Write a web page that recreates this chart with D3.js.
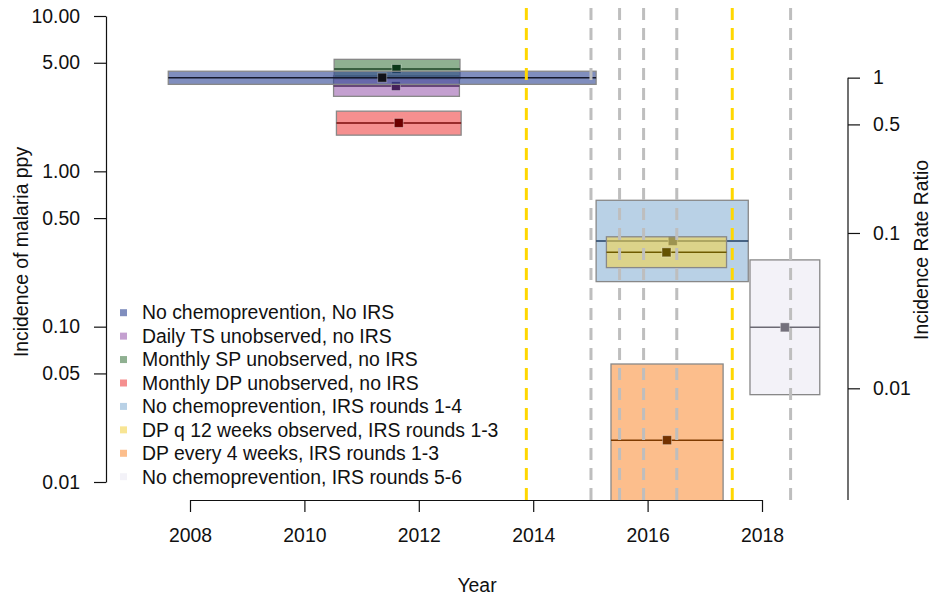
<!DOCTYPE html>
<html>
<head>
<meta charset="utf-8">
<script src="https://cdn.jsdelivr.net/npm/d3@7"></script>
<style>
  html, body { margin: 0; padding: 0; background: #fff; }
  svg { display: block; }
  text { font-family: "Liberation Sans", Arial, Helvetica, sans-serif; fill: #111; }
</style>
</head>
<body>
<svg id="chart" width="932" height="598"></svg>
<script>
// ---- data ----
const categories = [
  "No chemoprevention, No IRS",
  "Daily TS unobserved, no IRS",
  "Monthly SP unobserved, no IRS",
  "Monthly DP unobserved, no IRS",
  "No chemoprevention, IRS rounds 1-4",
  "DP q 12 weeks observed, IRS rounds 1-3",
  "DP every 4 weeks, IRS rounds 1-3",
  "No chemoprevention, IRS rounds 5-6"
];
const startYear = [2007.62, 2010.51, 2010.52, 2010.56, 2015.10, 2015.28, 2015.36, 2017.79];
const endYear   = [2015.10, 2012.71, 2012.72, 2012.74, 2017.76, 2017.38, 2017.32, 2019.01];
const midYear   = [2011.36, 2011.60, 2011.61, 2011.65, 2016.44, 2016.33, 2016.34, 2018.40];
const incidence = [4.01, 3.54, 4.56, 2.05, 0.356, 0.301, 0.0186, 0.099];
const lowerCI   = [3.63, 3.04, 3.95, 1.71, 0.195, 0.240, 0.005, 0.0365];
const upperCI   = [4.41, 4.12, 5.26, 2.44, 0.651, 0.379, 0.0575, 0.269];
const goldLineYears = [2013.88, 2017.48];
const grayLineYears = [2015.01, 2015.51, 2015.93, 2016.51, 2018.50];
const xTicks = [2008, 2010, 2012, 2014, 2016, 2018];
const yTicks = [10, 5, 1, 0.5, 0.1, 0.05, 0.01];
const irrTicks = [1, 0.5, 0.1, 0.01];
const referenceRate = incidence[0];

// ---- styles ----
const fillColors  = ["rgb(43,67,147)", "rgb(157,97,177)", "rgb(68,123,72)", "rgb(238,68,68)",
                     "rgb(138,178,213)", "rgb(243,212,77)", "rgb(250,147,63)", "rgb(235,233,243)"];
const lineColors  = ["#15182c", "#4a2a5c", "#1c4526", "#7a0a0a", "#223e62", "#6e5a00", "#7e3a00", "#6c6a74"];
const pointColors = ["#111118", "#45205a", "#0a3a18", "#6e0000", "#1c3458", "#655200", "#733200", "#74717c"];
const drawOrder = [1, 2, 3, 0, 4, 5, 6, 7];
const fillOpacity = 0.6;

const svg = d3.select("#chart");
const x = d3.scaleLinear().domain([2008, 2018]).range([190, 762]);
const y = d3.scaleLog().domain([0.01, 10]).range([482, 16]);
const yR = d3.scaleLog().domain([0.01 / referenceRate, 10 / referenceRate]).range([482, 16]);
const plotBottom = 500, plotTop = -3;

svg.append("defs").append("clipPath").attr("id", "plotclip")
  .append("rect").attr("x", 0).attr("y", plotTop).attr("width", 932).attr("height", plotBottom - plotTop);

const plot = svg.append("g").attr("clip-path", "url(#plotclip)");

drawOrder.forEach(i => {
  const g = plot.append("g");
  g.append("rect")
    .attr("x", x(startYear[i]))
    .attr("y", y(upperCI[i]))
    .attr("width", x(endYear[i]) - x(startYear[i]))
    .attr("height", y(lowerCI[i]) - y(upperCI[i]))
    .attr("fill", fillColors[i]).attr("fill-opacity", fillOpacity)
    .attr("stroke", "#888").attr("stroke-width", 1.3);
  g.append("line")
    .attr("x1", x(startYear[i])).attr("x2", x(endYear[i]))
    .attr("y1", y(incidence[i])).attr("y2", y(incidence[i]))
    .attr("stroke", lineColors[i]).attr("stroke-width", 1.5);
  g.append("rect")
    .attr("x", x(midYear[i]) - 4.5).attr("y", y(incidence[i]) - 4.5)
    .attr("width", 9).attr("height", 9)
    .attr("fill", pointColors[i])
    .attr("stroke", "rgba(255,255,255,0.35)").attr("stroke-width", 1);
});

// dashed vertical lines
plot.selectAll("line.gray").data(grayLineYears).enter().append("line")
  .attr("class", "gray")
  .attr("x1", d => x(d)).attr("x2", d => x(d))
  .attr("y1", plotBottom).attr("y2", plotTop)
  .attr("stroke", "#bebebe").attr("stroke-width", 3)
  .attr("stroke-dasharray", "12,8");
plot.selectAll("line.gold").data(goldLineYears).enter().append("line")
  .attr("class", "gold")
  .attr("x1", d => x(d)).attr("x2", d => x(d))
  .attr("y1", plotBottom).attr("y2", plotTop)
  .attr("stroke", "#ffd700").attr("stroke-width", 3)
  .attr("stroke-dasharray", "12,8");

const fs = "19.4px";

// left axis
const yAxis = svg.append("g").attr("transform", "translate(106,0)")
  .call(d3.axisLeft(y).tickValues(yTicks).tickFormat(d3.format(".2f"))
        .tickSize(12).tickSizeOuter(0).tickPadding(14));
// bottom axis
const xAxis = svg.append("g").attr("transform", `translate(0,${plotBottom})`)
  .call(d3.axisBottom(x).tickValues(xTicks).tickFormat(d3.format("d"))
        .tickSize(12).tickSizeOuter(0).tickPadding(16));
// right axis
const rAxis = svg.append("g").attr("transform", "translate(848,0)")
  .call(d3.axisRight(yR).tickValues(irrTicks).tickFormat(d => String(d))
        .tickSize(12).tickSizeOuter(0).tickPadding(13));
rAxis.select(".domain").remove();
rAxis.append("line").attr("x1", 0).attr("x2", 0)
  .attr("y1", yR(1)).attr("y2", plotBottom).attr("stroke", "#111").attr("stroke-width", 1.2);

[yAxis, xAxis, rAxis].forEach(a => {
  a.selectAll("text").style("font-size", fs).attr("fill", "#111")
   .style("font-family", "'Liberation Sans', Arial, sans-serif");
  a.selectAll("line").attr("stroke", "#111").attr("stroke-width", 1.2);
  a.selectAll(".domain").attr("stroke", "#111").attr("stroke-width", 1.2);
});

// axis titles
svg.append("text").attr("x", 477).attr("y", 592).attr("text-anchor", "middle")
  .style("font-size", fs).text("Year");
svg.append("text").attr("transform", "translate(28,252) rotate(-90)")
  .attr("text-anchor", "middle").style("font-size", fs).text("Incidence of malaria ppy");
svg.append("text").attr("transform", "translate(928,250) rotate(-90)")
  .attr("text-anchor", "middle").style("font-size", fs).text("Incidence Rate Ratio");

// legend
const legend = svg.append("g");
categories.forEach((c, i) => {
  const ly = 312.7 + i * 23.43;
  legend.append("rect").attr("x", 120).attr("y", ly - 3.5).attr("width", 7).attr("height", 7)
    .attr("fill", fillColors[i]).attr("fill-opacity", fillOpacity);
  legend.append("text").attr("x", 142).attr("y", ly).attr("dy", "0.35em")
    .style("font-size", fs).text(c);
});
</script>
</body>
</html>
